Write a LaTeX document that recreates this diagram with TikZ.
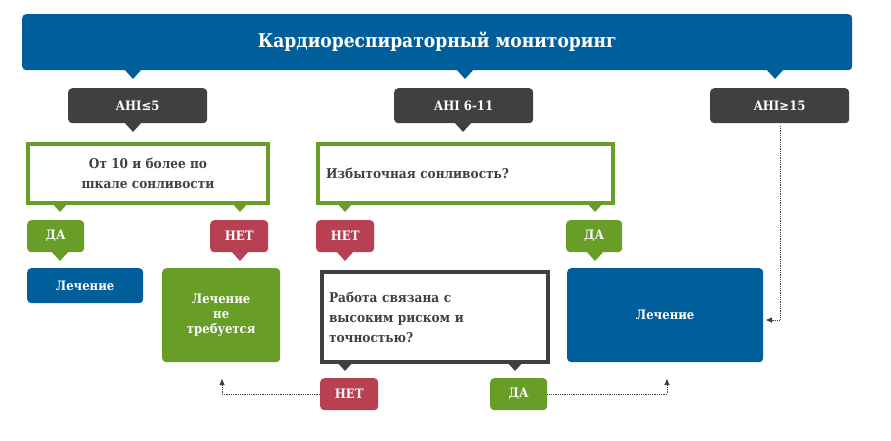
\documentclass[tikz,border=0pt]{standalone}
\usepackage{fontspec}
\setmainfont{DejaVu Serif Condensed}
\usetikzlibrary{arrows.meta}
\definecolor{cblue}{RGB}{0,94,155}
\definecolor{cgreen}{RGB}{104,157,40}
\definecolor{cred}{RGB}{184,64,83}
\definecolor{cgray}{RGB}{64,64,64}
\newcommand{\ptr}[3]{\fill[#3] (#1-9,#2-1) -- (#1,#2+9) -- (#1+9,#2-1) -- cycle;}
\begin{document}
\begin{tikzpicture}[x=1pt,y=-1pt,
  lab/.style={rounded corners=4pt,text=white,font=\bfseries\fontsize{13}{15}\selectfont,inner sep=0pt,anchor=north west},
  frm/.style={line width=4pt,fill=white,anchor=north west,inner sep=0pt,text=cgray,font=\bfseries\fontsize{13.5}{20}\selectfont},
  dot/.style={densely dotted,cgray,line width=0.8pt,-{Triangle[length=6pt,width=5pt]}}]
\useasboundingbox (0,0) rectangle (891,441);
% title
\node[lab,fill=cblue,minimum width=830,minimum height=56,font=\bfseries\fontsize{19}{22}\selectfont] (title) at (22,14) {Кардиореспираторный мониторинг};
\ptr{133}{70}{cblue}\ptr{465}{70}{cblue}\ptr{775}{70}{cblue}
% AHI
\node[lab,fill=cgray,minimum width=139,minimum height=35] (a1) at (68,88) {AHI≤5};
\node[lab,fill=cgray,minimum width=139,minimum height=35] (a2) at (394,88) {AHI 6-11};
\node[lab,fill=cgray,minimum width=139,minimum height=35] (a3) at (710,88) {AHI≥15};
\ptr{133}{123}{cgray}\ptr{463}{123}{cgray}
% question boxes
\node[frm,draw=cgreen,minimum width=240,minimum height=59,align=center] (q1) at (26,142) {От 10 и более по\\шкале сонливости};
\node[frm,draw=cgreen,minimum width=295,minimum height=59,align=left,text width=279,inner xsep=8pt] (q2) at (316,142) {Избыточная сонливость?};
\ptr{60}{203}{cgreen}\ptr{240}{203}{cgreen}\ptr{345}{203}{cgreen}\ptr{595}{203}{cgreen}
% yes/no
\node[lab,fill=cgreen,minimum width=57,minimum height=32] (y1) at (27,220) {ДА};
\node[lab,fill=cred,minimum width=58,minimum height=32] (n1) at (210,220) {НЕТ};
\node[lab,fill=cred,minimum width=58,minimum height=32] (n2) at (316,220) {НЕТ};
\node[lab,fill=cgreen,minimum width=56,minimum height=32] (y2) at (566,220) {ДА};
\ptr{60}{252}{cgreen}\ptr{240}{252}{cred}\ptr{345}{252}{cred}\ptr{595}{252}{cgreen}
% results
\node[lab,fill=cblue,minimum width=116,minimum height=35] (t1) at (27,268) {Лечение};
\node[lab,fill=cgreen,minimum width=118,minimum height=94,align=center] (t0) at (162,268) {Лечение\\не\\требуется};
\node[frm,draw=cgray,minimum width=226,minimum height=90,align=left,text width=212,inner xsep=7pt] (q3) at (320,270) {Работа связана с\\высоким риском и\\точностью?};
\node[lab,fill=cblue,minimum width=196,minimum height=94] (t2) at (567,268) {Лечение};
\ptr{345}{362}{cgray}\ptr{515}{362}{cgray}
\node[lab,fill=cred,minimum width=58,minimum height=32] (n3) at (320,378) {НЕТ};
\node[lab,fill=cgreen,minimum width=57,minimum height=32] (y3) at (490,378) {ДА};
% dotted arrows
\coordinate (e0) at (222,379);
\coordinate (e2) at (667,379);
\coordinate (s3) at (780,126);
\coordinate (e3) at (766,320);
\draw[dot] (n3.west) -| (e0);
\draw[dot] (y3.east) -| (e2);
\draw[dot] (s3) |- (e3);
\end{tikzpicture}
\end{document}
